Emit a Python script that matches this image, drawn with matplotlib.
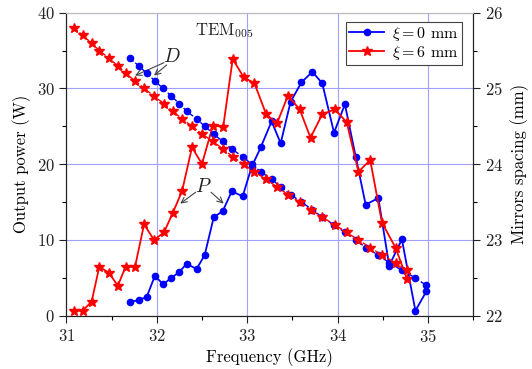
import matplotlib
matplotlib.use("Agg")
import matplotlib.pyplot as plt

plt.rcParams['font.family'] = ['cmr10', 'DejaVu Serif']
plt.rcParams['mathtext.fontset'] = 'cm'
plt.rcParams['axes.formatter.use_mathtext'] = True

# xi = 0 mm (blue)
freq0 = [31.70, 31.80, 31.89, 31.98, 32.07, 32.16, 32.25, 32.33, 32.44, 32.53,
         32.63, 32.73, 32.83, 32.95, 33.05, 33.15, 33.27, 33.37, 33.48, 33.60,
         33.72, 33.83, 33.96, 34.08, 34.20, 34.31, 34.45, 34.57, 34.71, 34.86, 34.98]
power0 = [1.85, 2.03, 2.51, 5.28, 4.14, 4.98, 5.77, 6.86, 6.16, 8.01,
          12.99, 13.82, 16.42, 15.76, 19.67, 22.23, 25.66, 22.76, 28.25, 30.8,
          32.2, 30.68, 24.16, 27.9, 20.99, 14.65, 15.54, 6.6, 10.08, 0.66, 3.2]
spacing0 = [25.4, 25.3, 25.2, 25.1, 25.0, 24.9, 24.8, 24.7, 24.6, 24.5,
            24.4, 24.3, 24.2, 24.1, 24.0, 23.9, 23.8, 23.7, 23.6, 23.5,
            23.4, 23.3, 23.2, 23.1, 23.0, 22.9, 22.8, 22.7, 22.6, 22.5, 22.4]

# xi = 6 mm (red)
freq6 = [31.085, 31.18, 31.28, 31.365, 31.47, 31.57, 31.656, 31.76, 31.86, 31.97,
         32.08, 32.175, 32.28, 32.39, 32.50, 32.62, 32.735, 32.84, 32.96, 33.08,
         33.21, 33.33, 33.45, 33.58, 33.70, 33.83, 33.97, 34.10, 34.23, 34.36,
         34.49, 34.64, 34.765]
power6 = [0.66, 0.66, 1.85, 6.47, 5.68, 3.96, 6.47, 6.47, 12.06, 10.0,
          11.0, 13.5, 16.46, 22.23, 20.03, 25.08, 24.95, 33.89, 31.5, 30.68,
          26.59, 25.4, 29.04, 27.25, 23.5, 26.59, 27.25, 25.53, 19.0, 20.55,
          12.28, 8.98, 4.9]
spacing6 = [25.8, 25.7, 25.6, 25.5, 25.4, 25.3, 25.2, 25.1, 25.0, 24.9,
            24.8, 24.7, 24.6, 24.5, 24.4, 24.3, 24.2, 24.1, 24.0, 23.9,
            23.8, 23.7, 23.6, 23.5, 23.4, 23.3, 23.2, 23.1, 23.0, 22.9,
            22.8, 22.7, 22.6]

fig = plt.figure(figsize=(5.32, 3.69), dpi=100)
ax = fig.add_axes([0.1246, 0.1444, 0.7651, 0.8212])
ax2 = ax.twinx()

blue = '#0000ff'
red = '#ff0000'

l0, = ax.plot(freq0, power0, '-', color=blue, marker='o', ms=4.5, lw=1.3,
              label=r'$\xi = 0$ mm', zorder=3)
l6, = ax.plot(freq6, power6, '-', color=red, marker='*', ms=7.5, lw=1.3,
              label=r'$\xi = 6$ mm', zorder=3)
ax2.plot(freq0, spacing0, '--', color=blue, marker='o', ms=4.5, lw=1.0, zorder=3)
ax2.plot(freq6, spacing6, '--', color=red, marker='*', ms=7.5, lw=1.0, zorder=3)

ax.set_xlim(31, 35.5)
ax.set_ylim(0, 40)
ax2.set_ylim(22, 26)

ax.set_xticks([31, 32, 33, 34, 35])
ax.set_xticks([31.5, 32.5, 33.5, 34.5, 35.5], minor=True)
ax.set_yticks([0, 10, 20, 30, 40])
ax.set_yticks([5, 15, 25, 35], minor=True)
ax2.set_yticks([22, 23, 24, 25, 26])
ax2.set_yticks([22.5, 23.5, 24.5, 25.5], minor=True)

for a in (ax, ax2):
    a.tick_params(which='major', direction='out', length=5, width=0.8, labelsize=12, colors='#222222')
    a.tick_params(which='minor', direction='out', length=3, width=0.8)
    a.spines['top'].set_color('#bbbbbb')
    a.spines['left'].set_color('#222222')
    a.spines['right'].set_color('#222222')
    a.spines['bottom'].set_color('#222222')

ax.grid(True, which='major', color='#a0a0ff', lw=0.8)
ax.set_axisbelow(True)

ax.set_xlabel('Frequency (GHz)', fontsize=12, labelpad=3)
ax.set_ylabel('Output power (W)', fontsize=12, labelpad=4)
ax2.set_ylabel('Mirrors spacing (mm)', fontsize=12, labelpad=5)

ax.text(32.75, 37.6, r'TEM$_{005}$', fontsize=12, ha='center', va='center', color='#222222')

# annotations (in power coordinates)
ax.text(32.17, 34.2, r'$D$', fontsize=14, ha='center', va='center', color='#222222')
arrow = dict(arrowstyle='->', color='#444444', lw=0.8, shrinkA=0, shrinkB=0)
ax.annotate('', xy=(31.76, 31.7), xytext=(32.08, 33.4), arrowprops=arrow)
ax.annotate('', xy=(31.97, 31.7), xytext=(32.11, 33.1), arrowprops=arrow)
ax.text(32.51, 17.0, r'$P$', fontsize=14, ha='center', va='center', color='#222222')
ax.annotate('', xy=(32.26, 14.8), xytext=(32.43, 16.3), arrowprops=arrow)
ax.annotate('', xy=(32.74, 14.8), xytext=(32.60, 16.3), arrowprops=arrow)

leg = ax2.legend(handles=[l0, l6], loc='upper right', bbox_to_anchor=(0.972, 0.97),
                 fontsize=11.5, fancybox=False, edgecolor='#444444', framealpha=1,
                 handlelength=2.2, borderpad=0.2, labelspacing=0.05, handletextpad=0.5,
                 borderaxespad=0)
leg.get_frame().set_linewidth(0.8)

fig.savefig('out.png', dpi=100)
